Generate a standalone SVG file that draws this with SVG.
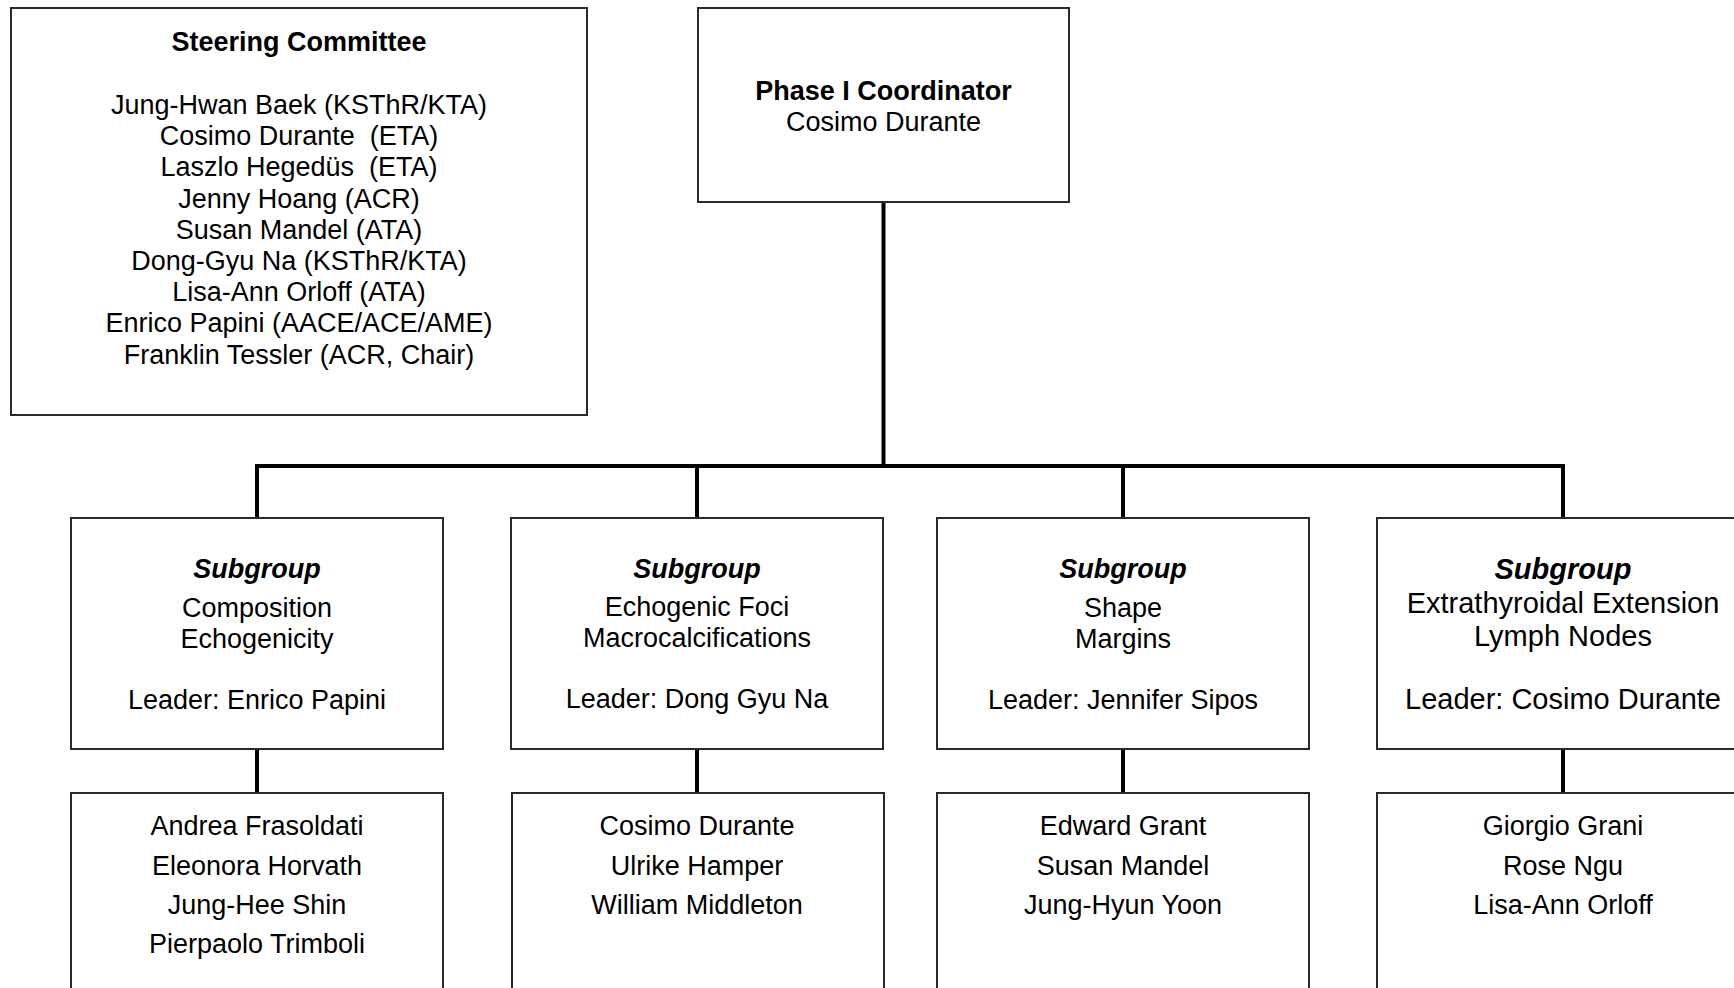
<svg xmlns="http://www.w3.org/2000/svg" width="1734" height="988" viewBox="0 0 1734 988">
<style>
.box{fill:#ffffff;stroke:#2a2a2a;stroke-width:2}
.t{font-family:"Liberation Sans",Arial,Helvetica,sans-serif;font-size:27px;fill:#000;text-anchor:middle}
.b{font-weight:bold}
.bi{font-weight:bold;font-style:italic}
.big{font-size:29px}
.conn{stroke:#000;stroke-width:4;fill:none}
</style>
<rect x="0" y="0" width="1734" height="988" fill="#ffffff"/>
<g id="connectors">
<line class="conn" x1="883.5" y1="202" x2="883.5" y2="466"/>
<line class="conn" x1="255" y1="466" x2="1565" y2="466"/>
<line class="conn" x1="257" y1="464" x2="257" y2="518"/>
<line class="conn" x1="697" y1="464" x2="697" y2="518"/>
<line class="conn" x1="1123" y1="464" x2="1123" y2="518"/>
<line class="conn" x1="1563" y1="464" x2="1563" y2="518"/>
<line class="conn" x1="257" y1="749" x2="257" y2="793"/>
<line class="conn" x1="697" y1="749" x2="697" y2="793"/>
<line class="conn" x1="1123" y1="749" x2="1123" y2="793"/>
<line class="conn" x1="1563" y1="749" x2="1563" y2="793"/>
</g>
<g id="steering">
<rect class="box" x="11" y="8" width="576" height="407"/>
<text class="t b" x="299" y="51">Steering Committee</text>
<text class="t" x="299" y="114">Jung-Hwan Baek (KSThR/KTA)</text>
<text class="t" x="299" y="145.2" xml:space="preserve">Cosimo Durante  (ETA)</text>
<text class="t" x="299" y="176.4" xml:space="preserve">Laszlo Hegedüs  (ETA)</text>
<text class="t" x="299" y="207.6">Jenny Hoang (ACR)</text>
<text class="t" x="299" y="238.8">Susan Mandel (ATA)</text>
<text class="t" x="299" y="270">Dong-Gyu Na (KSThR/KTA)</text>
<text class="t" x="299" y="301.2">Lisa-Ann Orloff (ATA)</text>
<text class="t" x="299" y="332.4">Enrico Papini (AACE/ACE/AME)</text>
<text class="t" x="299" y="363.6">Franklin Tessler (ACR, Chair)</text>
</g>
<g id="coordinator">
<rect class="box" x="698" y="8" width="371" height="194"/>
<text class="t b" x="883.5" y="100">Phase I Coordinator</text>
<text class="t" x="883.5" y="131">Cosimo Durante</text>
</g>
<g id="subgroup1">
<rect class="box" x="71" y="518" width="372" height="231"/>
<text class="t bi" x="257" y="578">Subgroup</text>
<text class="t" x="257" y="617">Composition</text>
<text class="t" x="257" y="648">Echogenicity</text>
<text class="t" x="257" y="709">Leader: Enrico Papini</text>
</g>
<g id="subgroup2">
<rect class="box" x="511" y="518" width="372" height="231"/>
<text class="t bi" x="697" y="578">Subgroup</text>
<text class="t" x="697" y="616">Echogenic Foci</text>
<text class="t" x="697" y="647">Macrocalcifications</text>
<text class="t" x="697" y="708">Leader: Dong Gyu Na</text>
</g>
<g id="subgroup3">
<rect class="box" x="937" y="518" width="372" height="231"/>
<text class="t bi" x="1123" y="578">Subgroup</text>
<text class="t" x="1123" y="617">Shape</text>
<text class="t" x="1123" y="648">Margins</text>
<text class="t" x="1123" y="709">Leader: Jennifer Sipos</text>
</g>
<g id="subgroup4">
<rect class="box" x="1377" y="518" width="372" height="231"/>
<text class="t bi big" x="1563" y="579">Subgroup</text>
<text class="t big" x="1563" y="613">Extrathyroidal Extension</text>
<text class="t big" x="1563" y="646">Lymph Nodes</text>
<text class="t big" x="1563" y="709">Leader: Cosimo Durante</text>
</g>
<g id="members1">
<rect class="box" x="71" y="793" width="372" height="220"/>
<text class="t" x="257" y="835">Andrea Frasoldati</text>
<text class="t" x="257" y="875">Eleonora Horvath</text>
<text class="t" x="257" y="914">Jung-Hee Shin</text>
<text class="t" x="257" y="953">Pierpaolo Trimboli</text>
</g>
<g id="members2">
<rect class="box" x="512" y="793" width="372" height="220"/>
<text class="t" x="697" y="835">Cosimo Durante</text>
<text class="t" x="697" y="875">Ulrike Hamper</text>
<text class="t" x="697" y="914">William Middleton</text>
</g>
<g id="members3">
<rect class="box" x="937" y="793" width="372" height="220"/>
<text class="t" x="1123" y="835">Edward Grant</text>
<text class="t" x="1123" y="875">Susan Mandel</text>
<text class="t" x="1123" y="914">Jung-Hyun Yoon</text>
</g>
<g id="members4">
<rect class="box" x="1377" y="793" width="372" height="220"/>
<text class="t" x="1563" y="835">Giorgio Grani</text>
<text class="t" x="1563" y="875">Rose Ngu</text>
<text class="t" x="1563" y="914">Lisa-Ann Orloff</text>
</g>
</svg>
